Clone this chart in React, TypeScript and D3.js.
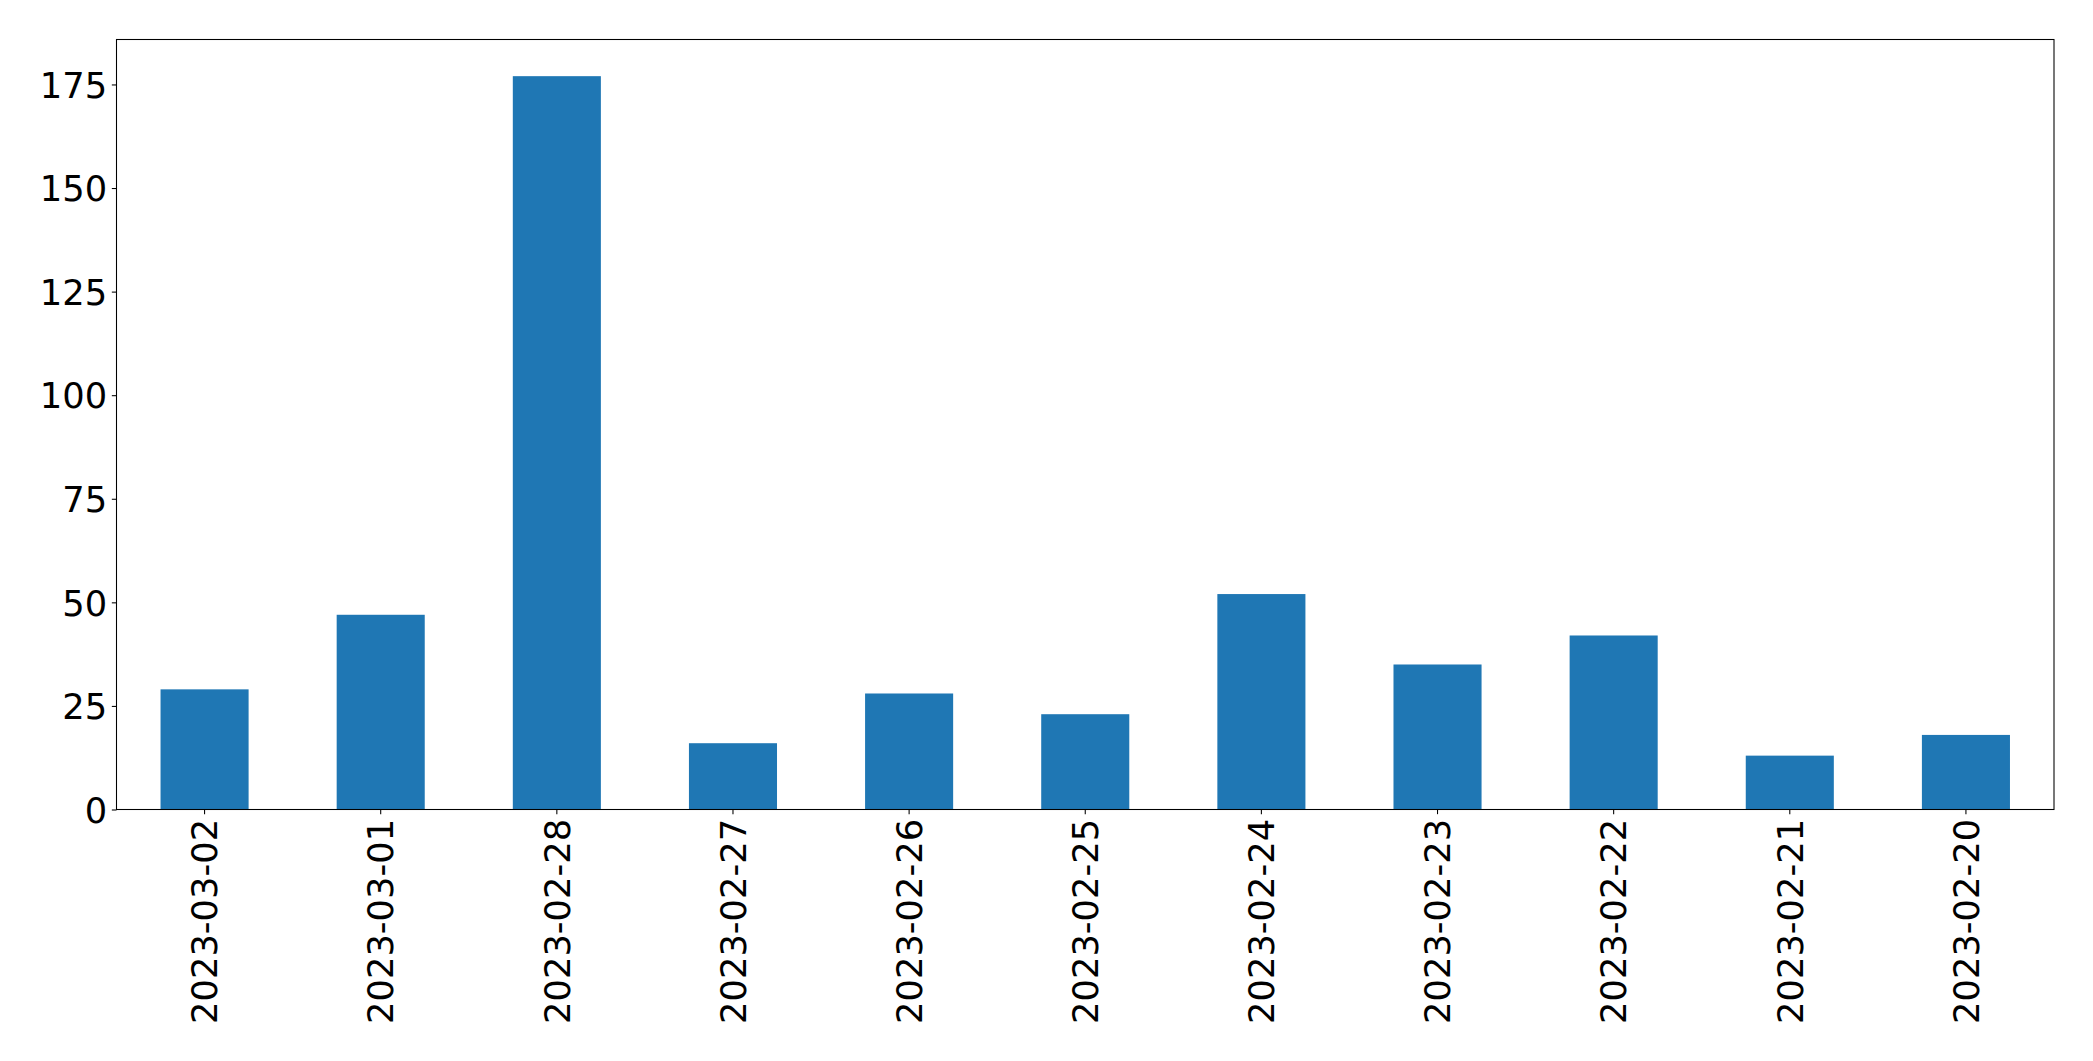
import React, { useRef, useEffect } from "react";
import * as d3 from "d3";

// bar chart, one bar per day (newest first)
const dates = [
  "2023-03-02",
  "2023-03-01",
  "2023-02-28",
  "2023-02-27",
  "2023-02-26",
  "2023-02-25",
  "2023-02-24",
  "2023-02-23",
  "2023-02-22",
  "2023-02-21",
  "2023-02-20",
];
const counts = [29, 47, 177, 16, 28, 23, 52, 35, 42, 13, 18];
const yTicks = [0, 25, 50, 75, 100, 125, 150, 175];

const WIDTH = 2093;
const HEIGHT = 1061;
const margin = { top: 39.5, right: 39, bottom: 251.5, left: 116.5 };
const FONT = "DejaVu Sans, sans-serif";
const FONT_SIZE = 35.3;
const TICK = 4.67;
const PAD = 4.67;

function BarChart() {
  const svgRef = useRef<SVGSVGElement>(null);

  useEffect(() => {
    const svg = d3.select(svgRef.current);
    svg.selectAll("*").remove();

    const x0 = margin.left;
    const x1 = WIDTH - margin.right;
    const y0 = HEIGHT - margin.bottom;
    const y1 = margin.top;

    const xScale = d3
      .scaleBand<string>()
      .domain(dates)
      .range([x0, x1])
      .paddingInner(0.5)
      .paddingOuter(0.25);

    const yScale = d3
      .scaleLinear()
      .domain([0, d3.max(counts)! * 1.05])
      .range([y0, y1]);

    // bars
    svg
      .append("g")
      .selectAll("rect")
      .data(dates)
      .join("rect")
      .attr("x", (d) => xScale(d)!)
      .attr("width", xScale.bandwidth())
      .attr("y", (d, i) => yScale(counts[i]))
      .attr("height", (d, i) => y0 - yScale(counts[i]))
      .attr("fill", "#1f77b4");

    // y axis
    const yAxis = svg
      .append("g")
      .attr("transform", `translate(${x0},0)`)
      .call(
        d3
          .axisLeft(yScale)
          .tickValues(yTicks)
          .tickSize(TICK)
          .tickPadding(PAD)
          .tickFormat(d3.format("d"))
      );
    yAxis.select(".domain").remove();
    yAxis.selectAll("line").attr("stroke", "#000").attr("stroke-width", 1.07);
    yAxis
      .selectAll("text")
      .attr("font-family", FONT)
      .attr("font-size", FONT_SIZE)
      .attr("fill", "#000")
      .attr("dy", "0.36em");

    // x axis
    const xAxis = svg
      .append("g")
      .attr("transform", `translate(0,${y0})`)
      .call(d3.axisBottom(xScale).tickSize(TICK).tickPadding(PAD));
    xAxis.select(".domain").remove();
    xAxis.selectAll("line").attr("stroke", "#000").attr("stroke-width", 1.07);
    xAxis
      .selectAll("text")
      .attr("font-family", FONT)
      .attr("font-size", FONT_SIZE)
      .attr("fill", "#000")
      .attr("text-anchor", "end")
      .attr("transform", `translate(0,${TICK + PAD}) rotate(-90)`)
      .attr("x", 0)
      .attr("y", 0)
      .attr("dy", "0.36em");

    // frame
    svg
      .append("rect")
      .attr("x", x0)
      .attr("y", y1)
      .attr("width", x1 - x0)
      .attr("height", y0 - y1)
      .attr("fill", "none")
      .attr("stroke", "#000")
      .attr("stroke-width", 1.07);
  }, []);

  return (
    <svg
      ref={svgRef}
      width={WIDTH}
      height={HEIGHT}
      style={{ position: "absolute", left: 0, top: 0, background: "#fff" }}
    />
  );
}

export default function App() {
  return <BarChart />;
}
